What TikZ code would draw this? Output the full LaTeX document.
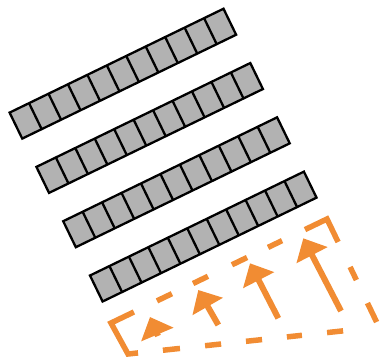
\documentclass[tikz,border=0pt]{standalone}
\usetikzlibrary{calc,arrows.meta}
\definecolor{frameorange}{RGB}{241,140,51}
\definecolor{cellgray}{RGB}{178,178,178}
\begin{document}
\begin{tikzpicture}[x=1pt,y=-1pt,
  cellrow/.style={fill=cellgray,draw=black,line width=2.3pt,line join=miter},
  celldiv/.style={draw=black,line width=2.3pt},
  framedash/.style={draw=frameorange,line width=5.5pt,line cap=butt,line join=miter},
  shear/.style={draw=frameorange,line width=6pt,-{Triangle[length=19pt,width=34pt]}}]
\useasboundingbox (0,0) rectangle (385,362);
% strips of cells
\foreach \k in {0,1,2,3}{
  \begin{scope}[shift={({9.6+26.8*\k},{112.6+54.3*\k})},rotate=25.9]
    \coordinate (s\k) at (0,0);
    \draw[cellrow] (0,0) rectangle (237.8,28.9);
    \foreach \i in {1,...,10} \draw[celldiv] ({\i*21.62},0) -- ({\i*21.62},28.9);
  \end{scope}
}
% dashed orange frame
\coordinate (TL) at (111,323);
\coordinate (TR) at (327,219);
\coordinate (BR) at (379,327);
\coordinate (BL) at (128,354);
\draw[framedash] ($(TL)!0.106!(TR)$) -- (TL) -- (BL) -- ($(BL)!0.04!(BR)$);
\draw[framedash] ($(TL)!0.898!(TR)$) -- (TR) -- ($(TR)!0.213!(BR)$);
\foreach \a/\b in {0.213/0.282,0.380/0.449,0.560/0.630,0.727/0.792}
  \draw[framedash] ($(TL)!\a!(TR)$) -- ($(TL)!\b!(TR)$);
\foreach \a/\b in {0.444/0.565,0.778/0.954}
  \draw[framedash] ($(TR)!\a!(BR)$) -- ($(TR)!\b!(BR)$);
\foreach \a/\b in {0.143/0.207,0.307/0.367,0.466/0.530,0.629/0.693,0.793/0.861}
  \draw[framedash] ($(BR)!\a!(BL)$) -- ($(BR)!\b!(BL)$);
% arrows
\coordinate (t1) at (158,336); \coordinate (h1) at (150,317);
\coordinate (t2) at (218.3,325); \coordinate (h2) at (198.3,290);
\coordinate (t3) at (278.3,318.3); \coordinate (h3) at (250,263.3);
\coordinate (t4) at (341,311); \coordinate (h4) at (303.3,238.3);
\draw[shear] (t1) -- (h1);
\draw[shear] (t2) -- (h2);
\draw[shear] (t3) -- (h3);
\draw[shear] (t4) -- (h4);
\end{tikzpicture}
\end{document}
